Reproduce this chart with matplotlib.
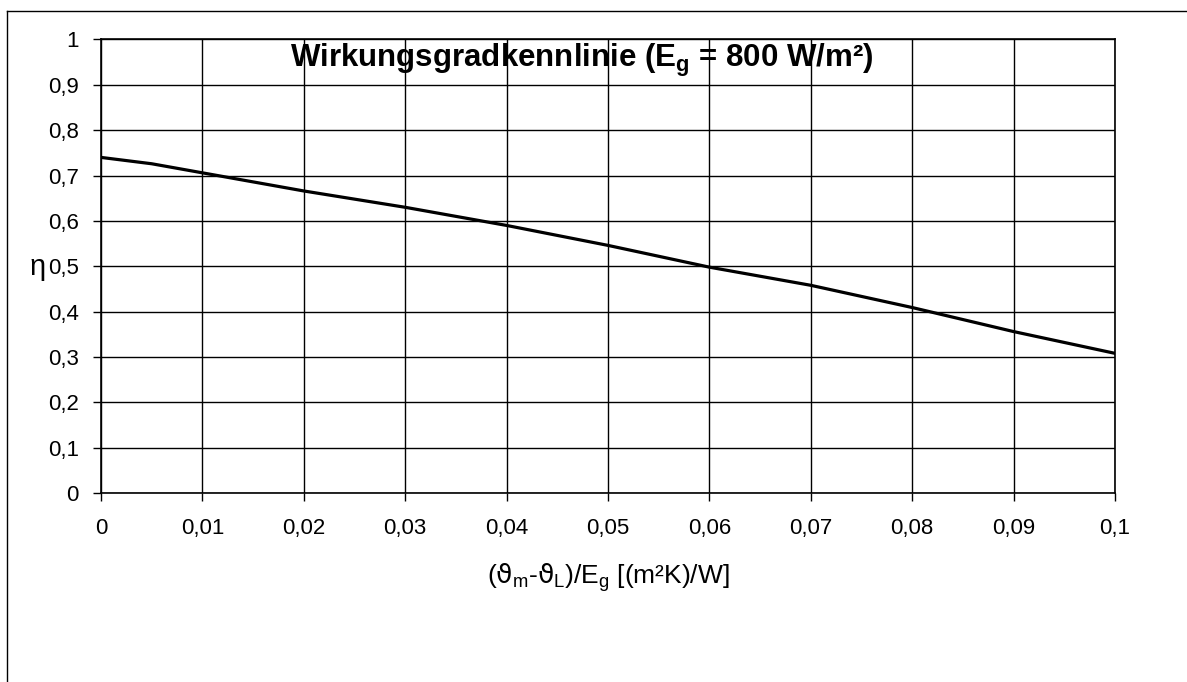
import numpy as np
import matplotlib
matplotlib.use("Agg")
import matplotlib.pyplot as plt
from matplotlib.lines import Line2D

plt.rcParams['font.family'] = ['Liberation Sans', 'DejaVu Sans']
plt.rcParams['mathtext.fontset'] = 'custom'
plt.rcParams['mathtext.rm'] = 'Liberation Sans'
plt.rcParams['mathtext.bf'] = 'Liberation Sans:bold'
plt.rcParams['mathtext.it'] = 'DejaVu Sans'

# Wirkungsgrad ueber (theta_m - theta_L)/E_g
x_vals = [0.0, 0.005, 0.01, 0.02, 0.03, 0.04, 0.05, 0.06, 0.07, 0.08, 0.09, 0.1]
eta = [0.740, 0.726, 0.706, 0.666, 0.630, 0.590, 0.546, 0.498, 0.458, 0.409, 0.356, 0.308]

x_ticks = [0, 0.01, 0.02, 0.03, 0.04, 0.05, 0.06, 0.07, 0.08, 0.09, 0.1]
y_ticks = [0, 0.1, 0.2, 0.3, 0.4, 0.5, 0.6, 0.7, 0.8, 0.9, 1]


def komma(v):
    s = ('%g' % v).replace('.', ',')
    return s


fig = plt.figure(figsize=(11.87, 6.82), dpi=100)
ax = fig.add_axes([0.0851, 0.2771, 0.8542, 0.665])

ax.plot(x_vals, eta, color='black', lw=2.3, solid_joinstyle='round')

ax.set_xlim(0, 0.1)
ax.set_ylim(0, 1)
ax.set_xticks(x_ticks)
ax.set_xticklabels([komma(v) for v in x_ticks], fontsize=16)
ax.set_yticks(y_ticks)
ax.set_yticklabels([komma(v) for v in y_ticks], fontsize=16)
ax.tick_params(direction='out', length=6, width=1, color='black')
ax.tick_params(axis='x', pad=12)
ax.tick_params(axis='y', pad=10)
ax.grid(True, color='black', lw=1)
for s in ax.spines.values():
    s.set_color('black')
    s.set_linewidth(1.2)

ax.text(0.0474, 0.9405, r'Wirkungsgradkennlinie (E$_\mathbf{g}$ = 800 W/m²)',
        fontsize=22.5, fontweight='bold', ha='center', va='baseline')

ax.set_xlabel(r'($\vartheta_\mathrm{m}$-$\vartheta_\mathrm{L}$)/E$_\mathrm{g}$ [(m²K)/W]',
              fontsize=19, labelpad=16)
fig.text(0.032, 0.608, 'η', fontsize=21, ha='center', va='center')

# Rahmen der Vorlage (oben und links)
fig.add_artist(Line2D([7 / 1187, 1.0], [1 - 11 / 682, 1 - 11 / 682],
                      transform=fig.transFigure, color='black', lw=1))
fig.add_artist(Line2D([7 / 1187, 7 / 1187], [0.0, 1 - 11 / 682],
                      transform=fig.transFigure, color='black', lw=1))

fig.savefig('out.png', dpi=100)
